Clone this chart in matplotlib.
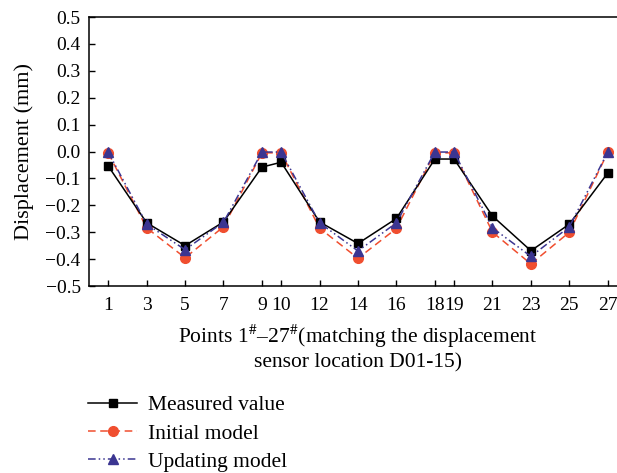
import matplotlib
matplotlib.use('Agg')
import matplotlib.pyplot as plt

plt.rcParams['font.family'] = ['Liberation Serif', 'DejaVu Serif']
plt.rcParams['mathtext.fontset'] = 'stix'

points = [1, 3, 5, 7, 9, 10, 12, 14, 16, 18, 19, 21, 23, 25, 27]
measured = [-0.054, -0.265, -0.35, -0.262, -0.058, -0.04, -0.262, -0.342,
            -0.249, -0.028, -0.028, -0.24, -0.369, -0.27, -0.08]
initial = [-0.005, -0.284, -0.395, -0.28, -0.005, -0.005, -0.285, -0.397,
           -0.286, -0.005, -0.005, -0.30, -0.418, -0.30, -0.003]
updating = [-0.002, -0.27, -0.365, -0.263, -0.002, -0.002, -0.265, -0.37,
            -0.265, -0.002, -0.002, -0.284, -0.39, -0.28, -0.002]
yticks = [0.5, 0.4, 0.3, 0.2, 0.1, 0.0, -0.1, -0.2, -0.3, -0.4, -0.5]

fig = plt.figure(figsize=(6.17, 4.73), dpi=100)
ax = fig.add_axes([89 / 617, 1 - 286 / 473, 538 / 617, 269 / 473])

ax.plot(points, measured, color='black', lw=1.1, marker='s', ms=5.5,
        label='Measured value', zorder=3)
ax.plot(points, initial, color='#f04e2f', lw=1.1, ls=(0, (5, 3)), marker='o', ms=7,
        label='Initial model', zorder=2)
ax.plot(points, updating, color='#3b3591', lw=1.1, ls=(0, (5, 2, 1, 2, 1, 2)), marker='^', ms=7.5,
        label='Updating model', zorder=4)

ax.set_xlim(0, 28)
ax.set_ylim(-0.5, 0.5)
ax.set_xticks(points)
ax.set_yticks(yticks)
ax.set_yticklabels(['%.1f' % v if v >= 0 else '\u2212%.1f' % -v for v in yticks])
ax.tick_params(direction='in', labelsize=14, length=4, width=1)
ax.tick_params(axis='x', pad=8)
ax.tick_params(axis='y', pad=6)
ax.spines['right'].set_visible(False)
for s in ax.spines.values():
    s.set_linewidth(1.1)

ax.set_ylabel('Displacement (mm)', fontsize=16, labelpad=8)
ax.set_xlabel('Points 1$^{\\#}$\u201327$^{\\#}$(matching the displacement\nsensor location D01-15)',
              fontsize=15.5, labelpad=6, linespacing=1.25)

fig.legend(loc='upper left', bbox_to_anchor=(0.125, 0.187),
           bbox_transform=fig.transFigure, frameon=False, fontsize=15.5,
           handlelength=2.3, handletextpad=0.5, labelspacing=0.38, borderpad=0)

fig.savefig('out.png', dpi=100)
